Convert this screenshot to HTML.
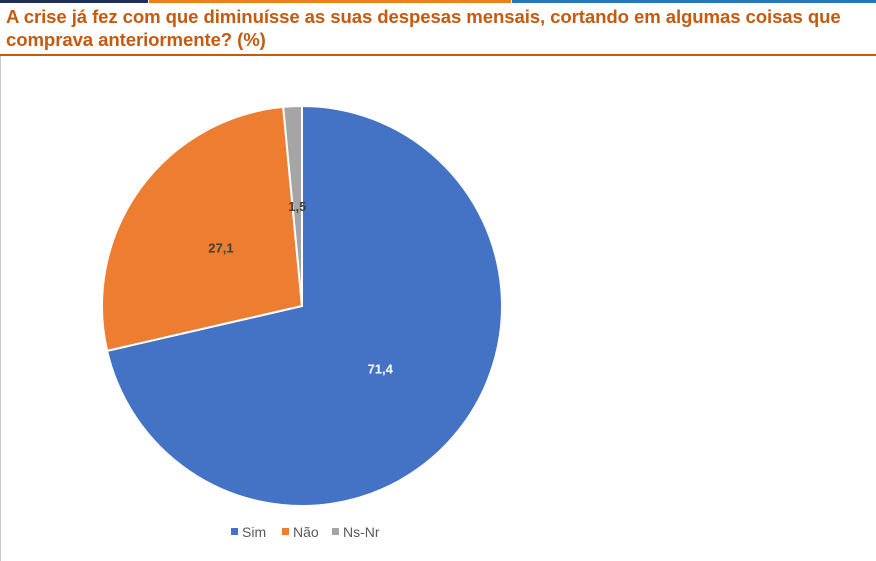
<!DOCTYPE html>
<html><head><meta charset="utf-8">
<style>
html,body{margin:0;padding:0;background:#fff;}
body{width:876px;height:561px;position:relative;overflow:hidden;font-family:"Liberation Sans",sans-serif;}
.bar{position:absolute;top:0;height:3px;}
#title{position:absolute;left:6px;top:5px;width:868px;font-weight:bold;font-size:18.6px;line-height:23px;color:#c55a11;letter-spacing:-0.1px;}
#uline{position:absolute;left:0;top:54px;width:876px;height:2px;background:#c55a11;}
#lline{position:absolute;left:0;top:56px;width:1px;height:505px;background:#c8c8c8;}
svg{position:absolute;left:0;top:0;}
</style></head><body>
<div class="bar" style="left:0;width:148px;background:#1f2d5c"></div>
<div class="bar" style="left:149px;width:362px;background:#e8821e"></div>
<div class="bar" style="left:512px;width:364px;background:#2e75b6"></div>
<div id="title">A crise já fez com que diminuísse as suas despesas mensais, cortando em algumas coisas que comprava anteriormente? (%)</div>
<div id="uline"></div>
<div id="lline"></div>
<svg id="chart" width="876" height="561"></svg>
<script>
const categories = ["Sim","Não","Ns-Nr"];
const values = [71.4, 27.1, 1.5];
const labels = ["71,4","27,1","1,5"];
const colors = ["#4472c4","#ed7d31","#a5a5a5"];
const labelColors = ["#ffffff","#404040","#404040"];
const NS="http://www.w3.org/2000/svg";
const svg=document.getElementById('chart');
const cx=302, cy=306, r=200;
const total=values.reduce((a,b)=>a+b,0);
function pt(frac,rad){const a=frac*2*Math.PI-Math.PI/2;return [cx+rad*Math.cos(a),cy+rad*Math.sin(a)];}
let acc=0;
values.forEach((v,i)=>{
  const f0=acc/total, f1=(acc+v)/total; acc+=v;
  const p0=pt(f0,r), p1=pt(f1,r);
  const large=(f1-f0)>0.5?1:0;
  const p=document.createElementNS(NS,'path');
  p.setAttribute('d',`M${cx},${cy} L${p0[0]},${p0[1]} A${r},${r} 0 ${large} 1 ${p1[0]},${p1[1]} Z`);
  p.setAttribute('fill',colors[i]);
  p.setAttribute('stroke','#fff');
  p.setAttribute('stroke-width','2');
  
  
  svg.appendChild(p);
  const mid=(f0+f1)/2;
  const lr = (f1-f0)<0.05 ? r*0.5 : r*0.5;
  const lp=pt(mid,lr);
  const t=document.createElementNS(NS,'text');
  t.setAttribute('x',lp[0]);t.setAttribute('y',lp[1]+5);
  t.setAttribute('text-anchor','middle');
  t.setAttribute('font-family','"Liberation Sans",sans-serif');
  t.setAttribute('font-size','13');t.setAttribute('font-weight','bold');
  t.setAttribute('fill',labelColors[i]);
  t.textContent=labels[i];
  
  
  svg.appendChild(t);
});
const legX=[231,282,332];
categories.forEach((c,i)=>{
  const g=document.createElementNS(NS,'g');
  
  
  const s=document.createElementNS(NS,'rect');
  s.setAttribute('x',legX[i]);s.setAttribute('y',528);s.setAttribute('width',7);s.setAttribute('height',7);
  s.setAttribute('fill',colors[i]);
  g.appendChild(s);
  const t=document.createElementNS(NS,'text');
  t.setAttribute('x',legX[i]+11);t.setAttribute('y',537);
  t.setAttribute('font-family','"Liberation Sans",sans-serif');
  t.setAttribute('font-size','14');t.setAttribute('fill','#595959');
  t.textContent=c;
  g.appendChild(t);
  svg.appendChild(g);
});
</script>
</body></html>
